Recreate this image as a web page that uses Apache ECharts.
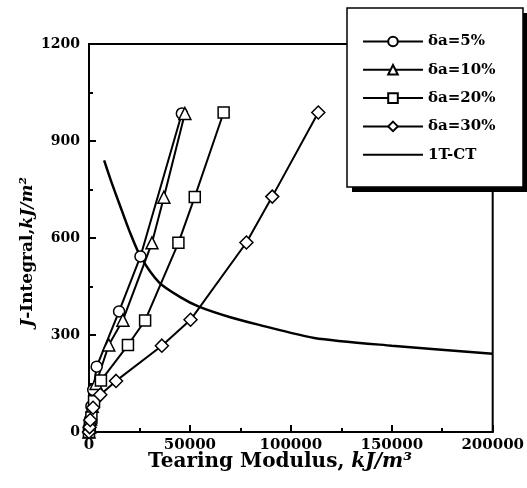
<!DOCTYPE html>
<html>
<head>
<meta charset="utf-8">
<script src="https://cdn.jsdelivr.net/npm/echarts@6/dist/echarts.min.js"></script>
<style>html,body{margin:0;padding:0;background:#fff;}#c{width:527px;height:488px;}</style>
</head>
<body>
<div id="c"></div>
<script>
// ---- data ----
const seriesNames = ['δa=5%', 'δa=10%', 'δa=20%', 'δa=30%', '1T-CT'];
const xTicks = [0, 50000, 100000, 150000, 200000];
const yTicks = [0, 300, 600, 900, 1200];

const tm5  = [0, 200, 600, 1200, 2100, 3800, 14900, 25500, 46000];
const j5   = [0, 15, 40, 80, 130, 202, 373, 543, 985];

const tm10 = [0, 300, 800, 1600, 3500, 9800, 16800, 31200, 37100, 47500];
const j10  = [0, 15, 40, 80, 150, 269, 346, 585, 726, 985];

const tm20 = [0, 400, 1200, 2500, 5900, 19300, 27800, 44300, 52400, 66700];
const j20  = [0, 15, 45, 95, 159, 269, 345, 585, 727, 988];

const tm30 = [0, 300, 600, 2000, 5600, 13400, 36100, 50300, 78000, 90800, 113600];
const j30  = [0, 15, 37, 75, 115, 158, 267, 347, 586, 728, 988];

const tmCT = [7500, 11000, 15200, 20000, 25500, 34800, 45000, 54400, 70000, 83800, 111600, 150000, 200000];
const jCT  = [840, 775, 703, 622, 543, 462, 418, 388, 355, 332, 291, 267, 242];

// ---- chart ----
const pair = (xs, ys) => xs.map((x, i) => [x, ys[i]]);
const FONT = 'DejaVu Serif';
const chart = echarts.init(document.getElementById('c'), null, {renderer: 'canvas'});

function markerSeries(name, xs, ys, symbol, size) {
  return {
    name, type: 'line', data: pair(xs, ys), symbol, symbolSize: size,
    showAllSymbol: true,
    lineStyle: {color: '#000', width: 2},
    itemStyle: {color: '#fff', borderColor: '#000', borderWidth: 1.5},
    emphasis: {disabled: true}, animation: false, z: 3
  };
}

chart.setOption({
  animation: false,
  backgroundColor: '#fff',
  grid: {left: 89, right: 29, top: 44, bottom: 56, show: true, borderColor: '#000', borderWidth: 2, backgroundColor: 'transparent'},
  xAxis: {
    type: 'value', min: 0, max: 200000, interval: 50000,
    axisLine: {show: true, onZero: false, lineStyle: {color: '#000', width: 2}},
    axisTick: {show: true, inside: true, length: 7, lineStyle: {color: '#000', width: 2}},
    minorTick: {show: true, splitNumber: 2, length: 4, lineStyle: {color: '#000', width: 2}},
    splitLine: {show: false},
    axisLabel: {color: '#000', fontFamily: FONT, fontWeight: 'bold', fontSize: 15, margin: 6,
      formatter: v => xTicks.includes(v) ? String(v) : ''}
  },
  yAxis: {
    type: 'value', min: 0, max: 1200, interval: 300,
    axisLine: {show: true, onZero: false, lineStyle: {color: '#000', width: 2}},
    axisTick: {show: true, inside: true, length: 7, lineStyle: {color: '#000', width: 2}},
    minorTick: {show: true, splitNumber: 2, length: 4, lineStyle: {color: '#000', width: 2}},
    splitLine: {show: false},
    axisLabel: {color: '#000', fontFamily: FONT, fontWeight: 'bold', fontSize: 14, margin: 9,
      formatter: v => yTicks.includes(v) ? String(v) : ''}
  },
  legend: {
    orient: 'vertical', left: 347, top: 8, z: 20,
    padding: [26, 22, 24, 15],
    itemWidth: 60, itemHeight: 12, itemGap: 13.3,
    textStyle: {color: '#000', fontFamily: FONT, fontWeight: 'bold', fontSize: 15},
    data: seriesNames,
    selectedMode: false
  },
  graphic: [
    {type: 'rect', z: 15, shape: {x: 352, y: 13, width: 176, height: 179}, style: {fill: '#000'}},
    {type: 'rect', z: 16, shape: {x: 347, y: 8, width: 176, height: 179}, style: {fill: '#fff', stroke: '#000', lineWidth: 1.5}},
    {type: 'text', x: 28, y: 252, rotation: Math.PI / 2, z: 10,
      style: {text: '{i|J}-Integral,{i|kJ/m²}', align: 'center', verticalAlign: 'middle',
        font: 'bold 17px "DejaVu Serif"', fill: '#000',
        rich: {i: {fontFamily: FONT, fontWeight: 'bold', fontStyle: 'italic', fontSize: 17, fill: '#000'}}}},
    {type: 'text', x: 280, y: 462, z: 10,
      style: {text: 'Tearing Modulus, {i|kJ/m³}', align: 'center', verticalAlign: 'middle',
        font: 'bold 20px "DejaVu Serif"', fill: '#000',
        rich: {i: {fontFamily: FONT, fontWeight: 'bold', fontStyle: 'italic', fontSize: 20, fill: '#000'}}}}
  ],
  series: [
    markerSeries(seriesNames[0], tm5, j5, 'circle', 11),
    markerSeries(seriesNames[1], tm10, j10, 'triangle', 12),
    markerSeries(seriesNames[2], tm20, j20, 'rect', 11),
    markerSeries(seriesNames[3], tm30, j30, 'diamond', 13),
    {
      name: seriesNames[4], type: 'line', data: pair(tmCT, jCT), symbol: 'none',
      smooth: 0.25,
      lineStyle: {color: '#000', width: 2.5},
      itemStyle: {color: 'rgba(0,0,0,0)', borderColor: 'rgba(0,0,0,0)', borderWidth: 0},
      emphasis: {disabled: true}, animation: false, z: 2
    }
  ]
});
</script>
</body>
</html>
